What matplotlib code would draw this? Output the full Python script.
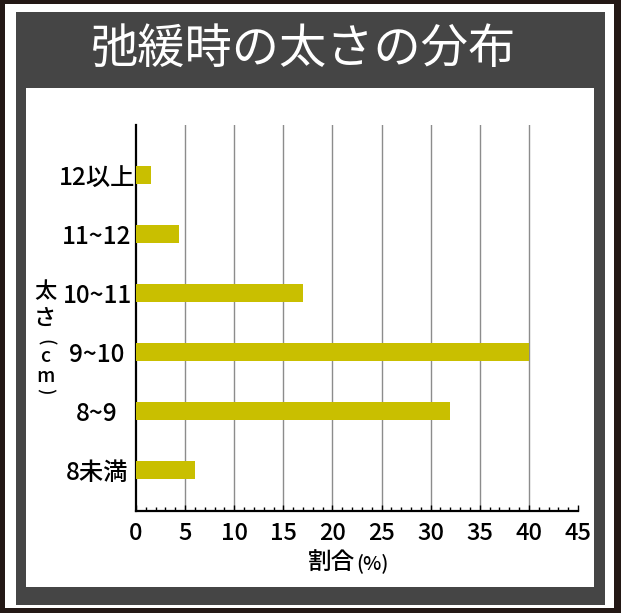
import matplotlib
matplotlib.use("Agg")
import matplotlib.pyplot as plt
from matplotlib.patches import Rectangle
from matplotlib.ticker import MultipleLocator

plt.rcParams['font.family'] = ['Noto Sans CJK JP', 'DejaVu Sans']
plt.rcParams['font.weight'] = 'medium'

# data
categories = ["8未満", "8~9", "9~10", "10~11", "11~12", "12以上"]
ratios = [6.0, 32.0, 40.0, 17.0, 4.4, 1.5]
x_ticks = [0, 5, 10, 15, 20, 25, 30, 35, 40, 45]

title = "弛緩時の太さの分布"
bar_color = "#c9bf00"
dark = "#231815"
gray = "#454545"

W, H = 621, 613
fig = plt.figure(figsize=(W / 100, H / 100), dpi=100)
fig.patch.set_facecolor(dark)

def box(x0, y0, x1, y1, color):
    # pixel coords, origin top-left
    r = Rectangle((x0 / W, 1 - y1 / H), (x1 - x0) / W, (y1 - y0) / H,
                  transform=fig.transFigure, facecolor=color,
                  edgecolor="none", zorder=-10)
    fig.patches.append(r)

box(5, 4, 614, 608, "white")
box(16, 12, 605, 605, gray)
box(26, 88, 594, 587, "white")

fig.text(304 / W, 1 - 50 / H, title, color="white", fontsize=34,
         fontweight="normal", ha="center", va="center")

left, right, top, bottom = 136, 578, 125, 511
ax = fig.add_axes([left / W, 1 - bottom / H, (right - left) / W, (bottom - top) / H])
ax.set_facecolor("none")

ypos = list(range(len(categories)))
ax.barh(ypos, ratios, height=0.3, color=bar_color, zorder=3)

ax.set_xlim(0, 45)
ax.set_ylim(-0.7, 5.85)
ax.set_xticks(x_ticks)
ax.xaxis.set_minor_locator(MultipleLocator(1))
ax.set_yticks(ypos)
ax.set_yticklabels(categories, ha="center")

for s in ["top", "right"]:
    ax.spines[s].set_visible(False)
for s in ["left", "bottom"]:
    ax.spines[s].set_linewidth(1.6)
    ax.spines[s].set_color("black")

ax.tick_params(axis="x", which="major", direction="in", length=4, width=1,
               labelsize=17, pad=8, colors="black")
ax.tick_params(axis="x", which="minor", direction="in", length=3, width=1)
ax.tick_params(axis="y", length=0, labelsize=17.5, pad=28)

ax.grid(axis="x", which="major", color="#8c8c8c", linewidth=1)
ax.set_axisbelow(True)
ax.get_xgridlines()[-1].set_visible(False)
ax.get_xgridlines()[0].set_visible(False)

# x label
fig.text(355 / W, 1 - 562 / H, "割合", fontsize=17, ha="right", va="center")
fig.text(356 / W, 1 - 563 / H, "(%)", fontsize=14, ha="left", va="center")

# vertical y label
for ch, yy, fs in [("太", 292, 16), ("さ", 318, 16), ("c", 356, 14), ("m", 376, 14)]:
    fig.text(45 / W, 1 - yy / H, ch, fontsize=fs, ha="center", va="center")
fig.text(45 / W, 1 - 342 / H, "(", fontsize=13, rotation=-90,
         ha="center", va="center")
fig.text(45 / W, 1 - 391 / H, ")", fontsize=13, rotation=-90,
         ha="center", va="center")

fig.savefig("out.png", dpi=100, facecolor=fig.get_facecolor())
